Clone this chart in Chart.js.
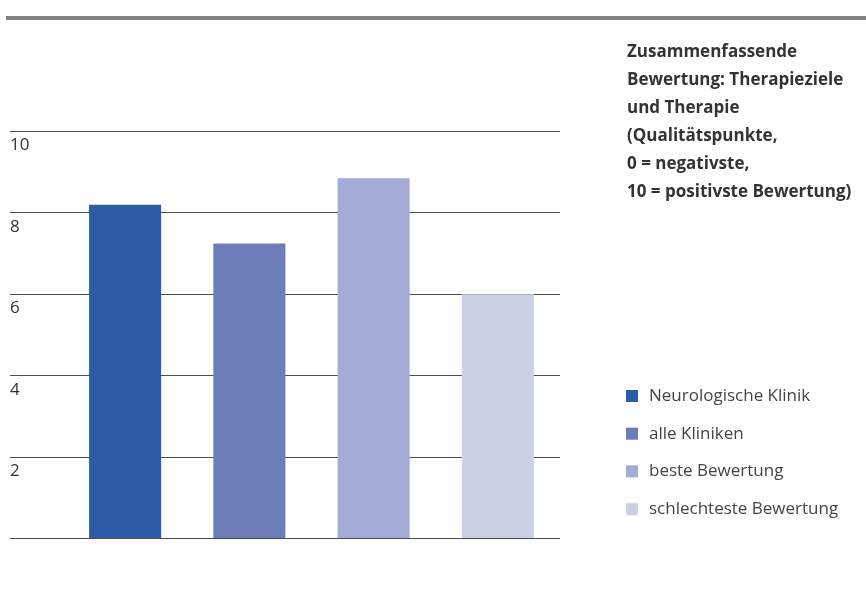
<!DOCTYPE html>
<html><head><meta charset="utf-8">
<script src="https://cdn.jsdelivr.net/npm/chart.js@4"></script>
<style>html,body{margin:0;padding:0;background:#fff}#wrap{position:relative;width:866px;height:601px}</style>
</head><body><div id="wrap"><canvas id="c" width="866" height="601"></canvas></div>
<script>
const categories = ['Neurologische Klinik', 'alle Kliniken', 'beste Bewertung', 'schlechteste Bewertung'];
const values = [8.2, 7.25, 8.85, 6.0];
const barColors = ['#2d5ca6', '#6d7db8', '#a3abd6', '#cbd0e7'];
const yTickLabels = [2, 4, 6, 8, 10];
const titleLines = ['Zusammenfassende', 'Bewertung: Therapieziele', 'und Therapie', '(Qualitätspunkte,', '0 = negativste,', '10 = positivste Bewertung)'];

const FONT = '"Open Sans", "DejaVu Sans", sans-serif';

const decor = {
  id: 'decor',
  beforeDraw(chart) {
    const ctx = chart.ctx;
    ctx.save();
    ctx.fillStyle = '#808285';
    ctx.fillRect(6, 16, 860, 4);
    ctx.restore();
  },
  afterDraw(chart) {
    const ctx = chart.ctx;
    ctx.save();
    ctx.textBaseline = 'middle';
    ctx.textAlign = 'left';
    ctx.fillStyle = '#333333';
    ctx.font = 'bold 17px ' + FONT;
    titleLines.forEach((t, i) => ctx.fillText(t, 627, 52 + i * 28));
    ctx.font = '17px ' + FONT;
    const ds = chart.data.datasets[0];
    chart.data.labels.forEach((lab, i) => {
      const y = 396 + i * 37.7;
      ctx.fillStyle = ds.backgroundColor[i];
      ctx.fillRect(626, y - 6, 12, 12);
      ctx.fillStyle = '#444444';
      ctx.fillText(lab, 649, y);
    });
    ctx.restore();
  }
};

new Chart(document.getElementById('c'), {
  type: 'bar',
  data: {
    labels: categories,
    datasets: [{
      data: values,
      backgroundColor: barColors,
      borderWidth: 0,
      categoryPercentage: 1,
      barPercentage: 0.58
    }]
  },
  options: {
    responsive: false,
    devicePixelRatio: 1,
    animation: false,
    layout: { padding: { left: 10, right: 306, top: 131.5, bottom: 62.5 } },
    plugins: { legend: { display: false }, tooltip: { enabled: false } },
    scales: {
      x: { display: false },
      y: {
        position: 'left',
        min: 0, max: 10,
        border: { display: false },
        grid: { color: '#4d4d4d', lineWidth: 1, tickLength: 53, drawTicks: true },
        afterFit(scale) { scale.width = 53; },
        afterBuildTicks(scale) {
          scale.ticks = [0].concat(yTickLabels).map(v => ({ value: v }));
        },
        ticks: {
          crossAlign: 'far',
          labelOffset: 14,
          padding: 0,
          color: '#333333',
          font: { family: FONT, size: 17 },
          callback: (v) => (yTickLabels.includes(v) ? String(v) : '')
        }
      }
    }
  },
  plugins: [decor]
});
</script>
</body></html>
